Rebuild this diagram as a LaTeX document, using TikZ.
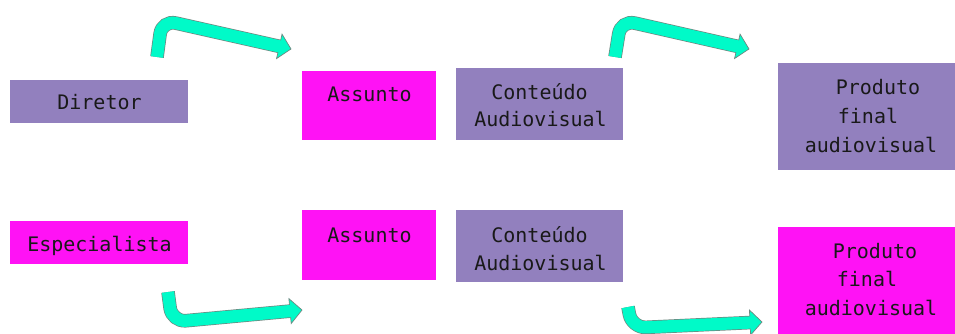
\documentclass[tikz,border=0pt]{standalone}
\usepackage{fontspec}
\setmonofont{DejaVu Sans Mono}
\usetikzlibrary{calc}
\definecolor{lav}{RGB}{146,128,190}
\definecolor{mag}{RGB}{255,18,245}
\definecolor{aqua}{RGB}{0,250,200}
\definecolor{edgegray}{RGB}{110,135,128}
\tikzset{
  box/.style={draw=none, inner sep=0pt, anchor=north west},
  pbox/.style={box, fill=lav},
  mbox/.style={box, fill=mag},
  txt/.style={font=\ttfamily\fontsize{20}{24}\selectfont, anchor=base, inner sep=0pt, text=black!90},
  ribedge/.style={draw=edgegray, line width=13.6pt, rounded corners=14pt},
  rib/.style={draw=aqua, line width=12.2pt, rounded corners=14pt},
  head/.style={fill=aqua, draw=edgegray, line width=0.7pt, line join=miter},
}
\newcommand\ribarrow[3]{%
  \draw[ribedge] (#1) -- (#2) -- ($(#3)!12pt!(#2)$);
  \coordinate (hb) at ($(#3)!12pt!(#2)$);
  \draw[head] (#3) -- ($(hb)!12.5pt!90:(#3)$) -- ($(hb)!12.5pt!-90:(#3)$) -- cycle;
  \draw[rib] (#1) -- (#2) -- ($(#3)!10pt!(#2)$);
}
\begin{document}
\begin{tikzpicture}[x=1pt, y=-1pt]
\useasboundingbox (0,0) rectangle (955,334);
% boxes
\node[pbox, minimum width=178pt, minimum height=43pt] (dir) at (10,80) {};
\node[mbox, minimum width=178pt, minimum height=43pt] (esp) at (10,221) {};
\node[mbox, minimum width=134pt, minimum height=69pt] (as1) at (302,71) {};
\node[mbox, minimum width=134pt, minimum height=70pt] (as2) at (302,210) {};
\node[pbox, minimum width=167pt, minimum height=72pt] (co1) at (456,68) {};
\node[pbox, minimum width=167pt, minimum height=72pt] (co2) at (456,210) {};
\node[pbox, minimum width=177pt, minimum height=107pt] (pr1) at (778,63) {};
\node[mbox, minimum width=177pt, minimum height=107pt] (pr2) at (778,227) {};
% texts
\node[txt] (tdir) at (99.5,110) {Diretor};
\node[txt] (tesp) at (99.5,251) {Especialista};
\node[txt] (tas1) at (369.5,102) {Assunto};
\node[txt] (tas2) at (369.5,242) {Assunto};
\node[txt] (tco1a) at (539.5,100) {Conteúdo};
\node[txt] (tco1b) at (540.5,127) {Audiovisual};
\node[txt] (tco2a) at (539.5,242) {Conteúdo};
\node[txt] (tco2b) at (540.5,270) {Audiovisual};
\node[txt] (tpr1a) at (878,95) {Produto};
\node[txt] (tpr1b) at (868,123.5) {final};
\node[txt] (tpr1c) at (871,152) {audiovisual};
\node[txt] (tpr2a) at (875,258) {Produto};
\node[txt] (tpr2b) at (867,286.5) {final};
\node[txt] (tpr2c) at (871,315) {audiovisual};
% arrows
\coordinate (t1s) at (157,57);
\coordinate (t1c) at (162,20);
\coordinate (t1t) at (291,49);
\coordinate (t2s) at (615,57);
\coordinate (t2c) at (621,20);
\coordinate (t2t) at (749,49);
\coordinate (b1s) at (168,292);
\coordinate (b1c) at (172,322);
\coordinate (b1t) at (302,310);
\coordinate (b2s) at (628,307);
\coordinate (b2c) at (632,328);
\coordinate (b2t) at (762,322);
\ribarrow{t1s}{t1c}{t1t}
\ribarrow{t2s}{t2c}{t2t}
\ribarrow{b1s}{b1c}{b1t}
\ribarrow{b2s}{b2c}{b2t}
\end{tikzpicture}
\end{document}
